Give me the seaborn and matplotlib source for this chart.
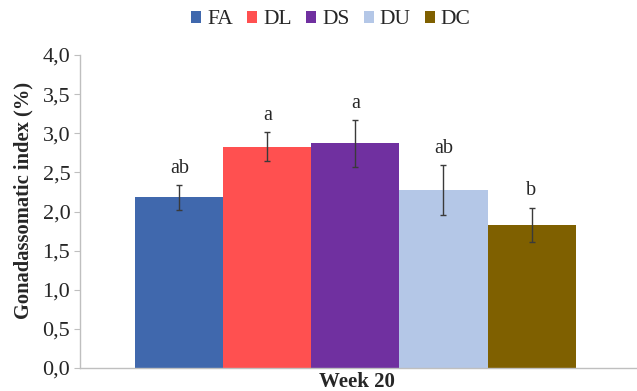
import matplotlib
matplotlib.use("Agg")
import matplotlib.pyplot as plt
import seaborn as sns
import pandas as pd
from matplotlib.ticker import FuncFormatter
from matplotlib.patches import Patch

groups = ["FA", "DL", "DS", "DU", "DC"]
means = [2.18, 2.83, 2.87, 2.27, 1.83]
errors = [0.155, 0.18, 0.295, 0.32, 0.215]
letters = ["ab", "a", "a", "ab", "b"]
colors = ["#4068AD", "#FF5050", "#7030A0", "#B4C7E7", "#7F6000"]
week = "Week 20"

df = pd.DataFrame({"week": [week] * len(groups), "group": groups, "gsi": means})

sns.set_style("white")
plt.rcParams["font.family"] = ["Liberation Serif", "DejaVu Serif"]

fig = plt.figure(figsize=(6.37, 3.91), dpi=100)
ax = fig.add_axes([80 / 637, 1 - 368 / 391, 1 - 80 / 637, (368 - 55) / 391])

sns.barplot(data=df, x="week", y="gsi", hue="group", hue_order=groups,
            palette=colors, width=0.79, saturation=1, errorbar=None,
            edgecolor="none", legend=False, ax=ax)

patches = [p for p in ax.patches if p.get_height() > 0]
patches.sort(key=lambda p: p.get_x())
xs = [p.get_x() + p.get_width() / 2 for p in patches]
ax.errorbar(xs, means, yerr=errors, fmt="none", ecolor="#3A3A3A",
            elinewidth=1.0, capsize=2.4, capthick=1.0)
for x, m, e, l in zip(xs, means, errors, letters):
    ax.annotate(l, (x, m + e), xytext=(0, 9), textcoords="offset points",
                ha="center", va="baseline", fontsize=14.5)

ax.set_ylim(0, 4.0)
ax.set_xlim(-0.4946, 0.5054)
ax.set_yticks([0, 0.5, 1.0, 1.5, 2.0, 2.5, 3.0, 3.5, 4.0])
ax.yaxis.set_major_formatter(FuncFormatter(lambda v, p: f"{v:.1f}".replace(".", ",")))
ax.tick_params(axis="y", left=True, length=4, width=0.8, color="#BFBFBF",
               labelsize=16, pad=3)
ax.tick_params(axis="x", bottom=False, labelbottom=False)
ax.set_xlabel("")
ax.set_ylabel("")
for s in ["top", "right"]:
    ax.spines[s].set_visible(False)
for s in ["left", "bottom"]:
    ax.spines[s].set_color("#BFBFBF")
    ax.spines[s].set_linewidth(1.0)

fig.text(23 / 637, 1 - 200 / 391, "Gonadassomatic index (%)", rotation=90,
         ha="center", va="center", fontsize=14.8, fontweight="bold")
fig.text(357 / 637, 1 - 382 / 391, week, ha="center", va="center",
         fontsize=15, fontweight="bold")

handles = [Patch(facecolor=c, edgecolor="none", label=g) for g, c in zip(groups, colors)]
fig.legend(handles=handles, loc="center", bbox_to_anchor=(331 / 637, 1 - 20 / 391),
           ncol=5, frameon=False, fontsize=15.5, handlelength=0.47, handleheight=0.47,
           handletextpad=0.28, columnspacing=0.65, borderpad=0)

fig.savefig("out.png", dpi=100)
